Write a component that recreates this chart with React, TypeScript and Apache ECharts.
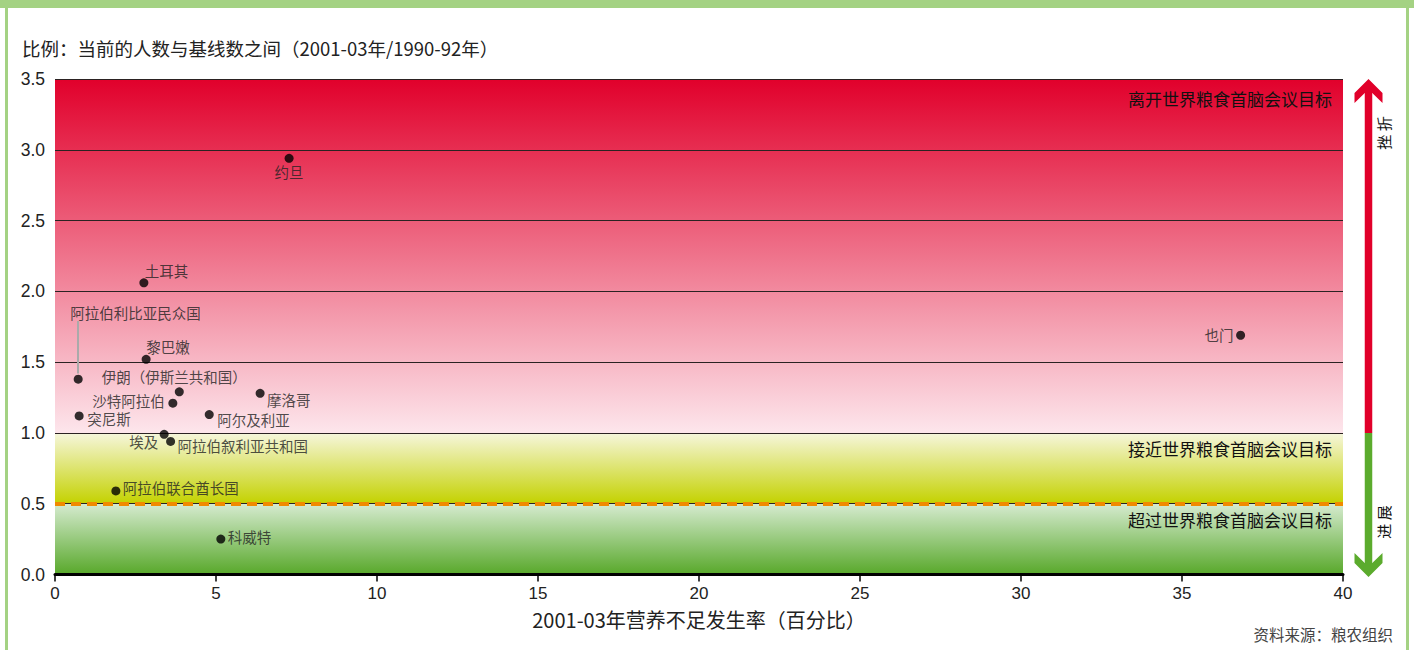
import React, { useEffect, useRef } from "react";
import * as echarts from "echarts";

// ---- data ----
const countries = [
  "约旦",
  "土耳其",
  "阿拉伯利比亚民众国",
  "黎巴嫩",
  "伊朗（伊斯兰共和国）",
  "沙特阿拉伯",
  "摩洛哥",
  "突尼斯",
  "阿尔及利亚",
  "埃及",
  "阿拉伯叙利亚共和国",
  "阿拉伯联合酋长国",
  "科威特",
  "也门",
];
const undernourishment = [7.27, 2.76, 0.72, 2.83, 3.86, 3.66, 6.37, 0.75, 4.79, 3.39, 3.59, 1.89, 5.15, 36.82];
const ratio = [2.94, 2.06, 1.38, 1.52, 1.29, 1.21, 1.28, 1.12, 1.13, 0.99, 0.94, 0.59, 0.25, 1.69];

const xTicks = [0, 5, 10, 15, 20, 25, 30, 35, 40];
const yTicks = [0, 0.5, 1.0, 1.5, 2.0, 2.5, 3.0, 3.5];

const bandLabels = ["离开世界粮食首脑会议目标", "接近世界粮食首脑会议目标", "超过世界粮食首脑会议目标"];
const bandBounds = [
  [1.0, 3.5],
  [0.5, 1.0],
  [0, 0.5],
];
const targetLine = 0.5;
const titleText = "比例：当前的人数与基线数之间（2001-03年/1990-92年）";
const xName = "2001-03年营养不足发生率（百分比）";
const sourceText = "资料来源：粮农组织";
const arrowTexts = ["挫 折", "进 展"];

// ---- styles ----
const labelPlacement: Record<string, { align: string; dx: number; dy: number }> = {
  "约旦": { align: "center", dx: 0, dy: 13 },
  "土耳其": { align: "left", dx: 1, dy: -12 },
  "阿拉伯利比亚民众国": { align: "left", dx: -8, dy: -67 },
  "黎巴嫩": { align: "left", dx: 0, dy: -13 },
  "伊朗（伊斯兰共和国）": { align: "center", dx: -5, dy: -15 },
  "沙特阿拉伯": { align: "right", dx: -8, dy: -3 },
  "摩洛哥": { align: "left", dx: 7, dy: 6 },
  "突尼斯": { align: "left", dx: 8, dy: 3 },
  "阿尔及利亚": { align: "left", dx: 8, dy: 5 },
  "埃及": { align: "right", dx: -6, dy: 7 },
  "阿拉伯叙利亚共和国": { align: "left", dx: 7, dy: 4 },
  "阿拉伯联合酋长国": { align: "left", dx: 7, dy: -3 },
  "科威特": { align: "left", dx: 7, dy: -3 },
  "也门": { align: "right", dx: -7, dy: -1 },
};

const bandColors = [
  ["#e1002b", "#fde6ec"],
  ["#f6f6dc", "#c4d200"],
  ["#d6ebd0", "#58a82a"],
];
const bandLabelOffsets = [
  [-3, 3],
  [-3, -1],
  [-3, -1],
];

const RED = "#e1002a";
const GREEN = "#5bab2d";
const BORDER = "#a4d283";
const CJK = "'Noto Sans CJK SC', sans-serif";
const LATIN = "'Liberation Sans', Arial, sans-serif";

export default function App() {
  const ref = useRef<HTMLDivElement>(null);

  useEffect(() => {
    if (!ref.current) return;
    const chart = echarts.init(ref.current, undefined, { renderer: "svg" });

    const grad = (c: string[]) =>
      new echarts.graphic.LinearGradient(0, 0, 0, 1, [
        { offset: 0, color: c[0] },
        { offset: 1, color: c[1] },
      ]);

    const libIdx = countries.indexOf("阿拉伯利比亚民众国");

    const option: any = {
      animation: false,
      backgroundColor: "#ffffff",
      grid: { left: 55, right: 71, top: 79, bottom: 75.5, containLabel: false },
      xAxis: {
        type: "value",
        min: xTicks[0],
        max: xTicks[xTicks.length - 1],
        interval: 5,
        z: 2,
        name: xName,
        nameLocation: "middle",
        nameGap: 35,
        nameTextStyle: { fontFamily: CJK, fontSize: 20, color: "#222" },
        axisLine: { show: true, lineStyle: { color: "#000", width: 3 } },
        axisTick: { show: true, length: 7, lineStyle: { color: "#000", width: 1.5 } },
        axisLabel: { fontFamily: LATIN, fontSize: 17, color: "#222", margin: 10 },
        splitLine: { show: false },
      },
      yAxis: {
        type: "value",
        min: yTicks[0],
        max: yTicks[yTicks.length - 1],
        interval: 0.5,
        z: 2,
        axisLine: { show: false },
        axisTick: { show: false },
        axisLabel: {
          fontFamily: LATIN,
          fontSize: 17.5,
          color: "#222",
          margin: 10,
          formatter: (v: number) => v.toFixed(1),
        },
        splitLine: { show: true, lineStyle: { color: "#2b2222", width: 1 } },
      },
      series: [
        {
          type: "scatter",
          z: 1,
          silent: true,
          data: [],
          markArea: {
            silent: true,
            data: bandBounds.map((b, i) => [
              {
                yAxis: b[1],
                itemStyle: { color: grad(bandColors[i]) },
                label: {
                  show: true,
                  position: "insideTopRight",
                  distance: 8,
                  offset: bandLabelOffsets[i],
                  formatter: bandLabels[i],
                  fontFamily: CJK,
                  fontSize: 17,
                  color: "#111",
                },
              },
              { yAxis: b[0] },
            ]),
          },
        },
        {
          type: "scatter",
          z: 3,
          symbolSize: 9,
          itemStyle: { color: "#000" },
          data: countries.map((n, i) => {
            const p = labelPlacement[n];
            return {
              name: n,
              value: [undernourishment[i], ratio[i]],
              label: {
                show: true,
                position: "inside",
                align: p.align,
                verticalAlign: "middle",
                offset: [p.dx, p.dy],
                formatter: n,
                fontFamily: CJK,
                fontSize: 14.5,
                color: "#222",
                textBorderWidth: 0,
              },
            };
          }),
          markLine: {
            silent: true,
            symbol: ["none", "none"],
            label: { show: false },
            data: [
              {
                yAxis: targetLine,
                lineStyle: { color: "#f08a00", width: 4, type: [10, 6] },
              },
              [
                { coord: [undernourishment[libIdx], ratio[libIdx] + 0.04], lineStyle: { color: "#aaaaaa", width: 2, type: "solid" } },
                { coord: [undernourishment[libIdx], 1.79] },
              ],
            ],
          },
        },
      ],
    };

    chart.setOption(option);

    const yTop = chart.convertToPixel({ yAxisIndex: 0 }, yTicks[yTicks.length - 1]) as number;
    const yOne = chart.convertToPixel({ yAxisIndex: 0 }, 1.0) as number;
    const yZero = chart.convertToPixel({ yAxisIndex: 0 }, 0) as number;
    const cx = 1368.5;
    const hw = 3.75;
    const tip = yTop;
    const btip = yZero + 2.5;

    chart.setOption({
      graphic: [
        { type: "rect", shape: { x: 0, y: 0, width: 1414, height: 8 }, style: { fill: BORDER }, silent: true },
        { type: "rect", shape: { x: 5, y: 0, width: 3, height: 650 }, style: { fill: BORDER }, silent: true },
        { type: "rect", shape: { x: 1406, y: 0, width: 3, height: 650 }, style: { fill: BORDER }, silent: true },
        {
          type: "text",
          x: 22,
          y: 48,
          style: { text: titleText, fontFamily: CJK, fontSize: 18.5, fill: "#222", verticalAlign: "middle", align: "left" },
        },
        // arrow shafts
        { type: "rect", shape: { x: cx - hw, y: tip + 10, width: hw * 2, height: yOne - tip - 10 }, style: { fill: RED } },
        { type: "rect", shape: { x: cx - hw, y: yOne, width: hw * 2, height: btip - 10 - yOne }, style: { fill: GREEN } },
        {
          type: "polygon",
          shape: {
            points: [
              [cx, tip],
              [cx + 14, tip + 14],
              [cx + 14, tip + 24],
              [cx + hw, tip + 14],
              [cx - hw, tip + 14],
              [cx - 14, tip + 24],
              [cx - 14, tip + 14],
            ],
          },
          style: { fill: RED },
        },
        {
          type: "polygon",
          shape: {
            points: [
              [cx, btip],
              [cx + 14, btip - 14],
              [cx + 14, btip - 24],
              [cx + hw, btip - 14],
              [cx - hw, btip - 14],
              [cx - 14, btip - 24],
              [cx - 14, btip - 14],
            ],
          },
          style: { fill: GREEN },
        },
        {
          type: "text",
          x: 1383,
          y: 133,
          rotation: Math.PI / 2,
          style: { text: arrowTexts[0], fontFamily: CJK, fontSize: 15, fill: "#111", align: "center", verticalAlign: "middle" },
        },
        {
          type: "text",
          x: 1383,
          y: 522,
          rotation: Math.PI / 2,
          style: { text: arrowTexts[1], fontFamily: CJK, fontSize: 15, fill: "#111", align: "center", verticalAlign: "middle" },
        },
        {
          type: "text",
          x: 1393,
          y: 634,
          style: { text: sourceText, fontFamily: CJK, fontSize: 15.5, fill: "#444", align: "right", verticalAlign: "middle" },
        },
      ],
    });

    return () => chart.dispose();
  }, []);

  return (
    <div
      ref={ref}
      style={{ position: "fixed", left: 0, top: 0, width: 1414, height: 650, background: "#fff" }}
    />
  );
}
